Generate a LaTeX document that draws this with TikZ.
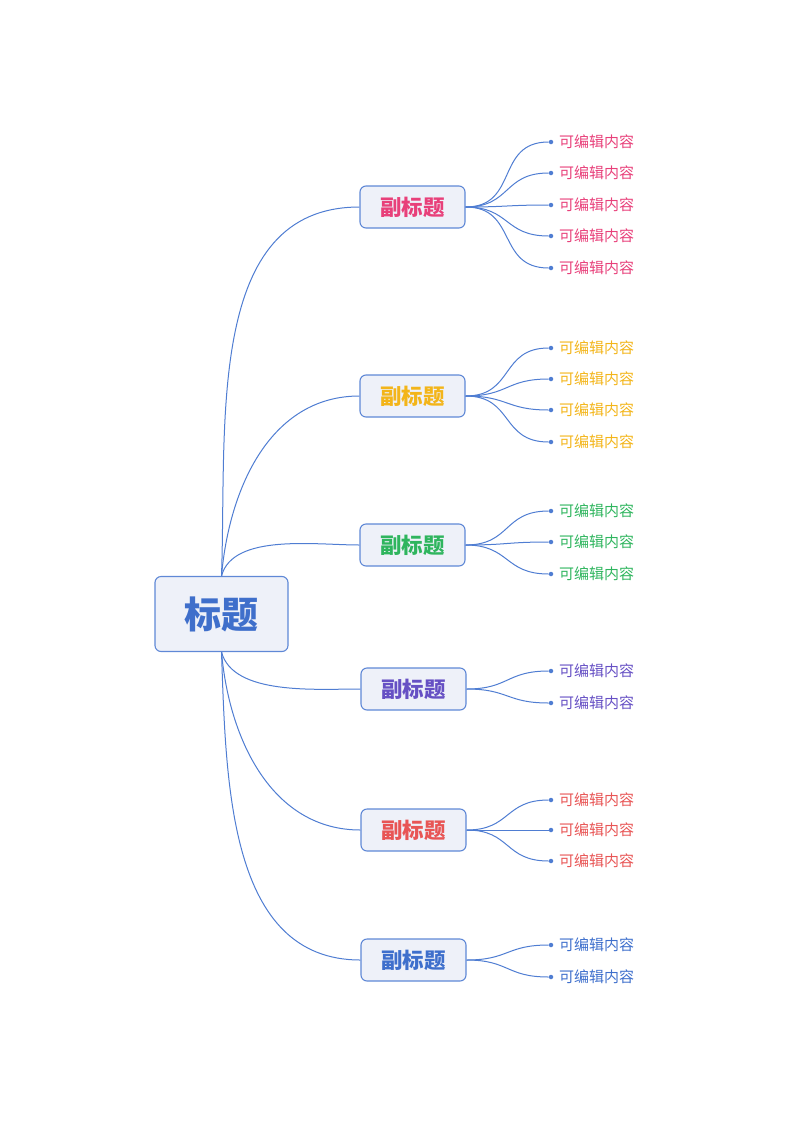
\documentclass[tikz,border=0pt]{standalone}
\usepackage{fontspec}
\newfontfamily\cjk{Noto Sans CJK SC}
\definecolor{linkblue}{HTML}{4F7DD2}
\definecolor{boxline}{HTML}{5F88D6}
\definecolor{boxfill}{HTML}{EEF1F9}
\definecolor{rootblue}{HTML}{3F6FCB}
\definecolor{pinkc}{HTML}{E8407A}
\definecolor{yellowc}{HTML}{F3B51A}
\definecolor{greenc}{HTML}{2FB55E}
\definecolor{purplec}{HTML}{6650C4}
\definecolor{redc}{HTML}{E85555}
\definecolor{bluec}{HTML}{3E6FCC}

\begin{document}
\begin{tikzpicture}[x=1pt, y=-1pt,
        box/.style={draw=boxline, fill=boxfill, line width=1.1pt, rounded corners=6pt, inner sep=0pt},
        sub/.style={box, minimum width=105pt, minimum height=42pt, font=\cjk\bfseries\fontsize{21.5}{24}\selectfont},
        link/.style={draw=linkblue, line width=1pt},
        dot/.style={circle, fill=linkblue, inner sep=0pt, minimum size=4.5pt},
        leaf/.style={anchor=west, inner sep=0pt, font=\cjk\fontsize{15}{17}\selectfont}]
        \useasboundingbox (0, 0) rectangle (800, 1130);

        % title and sub titles
        \node[box, minimum width=133pt, minimum height=75pt, font=\cjk\bfseries\fontsize{37}{42}\selectfont, text=rootblue] (root) at (221.5, 614) {标题};
        \node[sub, text=pinkc] (s1) at (412.5, 207) {副标题};
        \node[sub, text=yellowc] (s2) at (412.5, 396) {副标题};
        \node[sub, text=greenc] (s3) at (412.5, 545) {副标题};
        \node[sub, text=purplec] (s4) at (413.5, 689) {副标题};
        \node[sub, text=redc] (s5) at (413.5, 830) {副标题};
        \node[sub, text=bluec] (s6) at (413.5, 960) {副标题};

        \draw[link] (root.north) to[out=88, in=180] (s1.west);
        \draw[link] (root.north) to[out=85, in=180] (s2.west);
        \draw[link] (root.north) to[out=75, in=180, looseness=0.8] (s3.west);
        \draw[link] (root.south) to[out=-75, in=180, looseness=0.8] (s4.west);
        \draw[link] (root.south) to[out=-85, in=180] (s5.west);
        \draw[link] (root.south) to[out=-88, in=180] (s6.west);

        % leaves
        \foreach \y [count=\i] in {142, 173, 205, 236, 268} {
            \node[dot] (a\i) at (551, \y) {};
            \node[leaf, text=pinkc] at (559, \y) {可编辑内容};
            \draw[link] (s1.east) to[out=0, in=180, looseness=1.3] (a\i);
        }
        \foreach \y [count=\i] in {348, 379, 410, 442} {
            \node[dot] (b\i) at (551, \y) {};
            \node[leaf, text=yellowc] at (559, \y) {可编辑内容};
            \draw[link] (s2.east) to[out=0, in=180, looseness=1.3] (b\i);
        }
        \foreach \y [count=\i] in {511, 542, 574} {
            \node[dot] (c\i) at (551, \y) {};
            \node[leaf, text=greenc] at (559, \y) {可编辑内容};
            \draw[link] (s3.east) to[out=0, in=180, looseness=1.3] (c\i);
        }
        \foreach \y [count=\i] in {671, 703} {
            \node[dot] (d\i) at (551, \y) {};
            \node[leaf, text=purplec] at (559, \y) {可编辑内容};
            \draw[link] (s4.east) to[out=0, in=180, looseness=1.3] (d\i);
        }
        \foreach \y [count=\i] in {800, 830, 861} {
            \node[dot] (e\i) at (551, \y) {};
            \node[leaf, text=redc] at (559, \y) {可编辑内容};
            \draw[link] (s5.east) to[out=0, in=180, looseness=1.3] (e\i);
        }
        \foreach \y [count=\i] in {945, 977} {
            \node[dot] (f\i) at (551, \y) {};
            \node[leaf, text=bluec] at (559, \y) {可编辑内容};
            \draw[link] (s6.east) to[out=0, in=180, looseness=1.3] (f\i);
        }
    \end{tikzpicture}
\end{document}
